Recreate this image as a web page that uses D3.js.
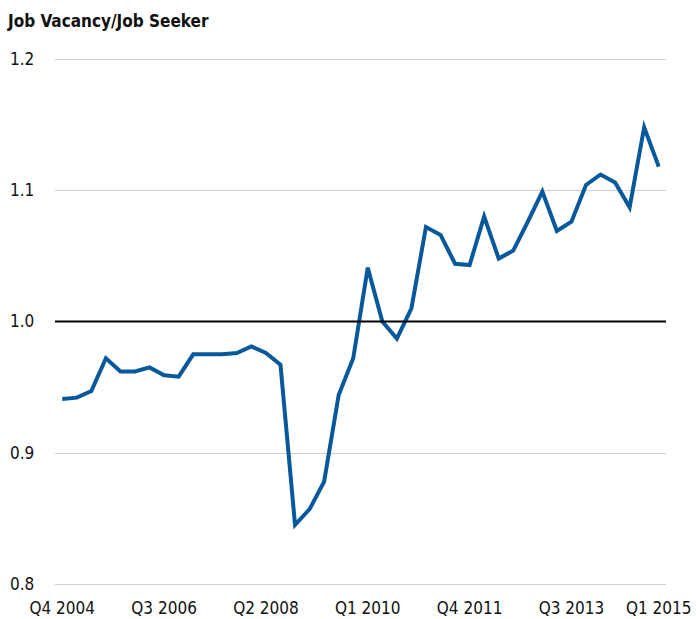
<!DOCTYPE html>
<html>
<head>
<meta charset="utf-8">
<script src="https://cdn.jsdelivr.net/npm/d3@7"></script>
<style>
  body { margin: 0; background: #fff; }
  svg text { font-family: "Liberation Sans Narrow", "Arial Narrow", "DejaVu Sans Condensed", sans-serif; fill: #111; }
</style>
</head>
<body>
<div id="chart"></div>
<script>
// quarters from Q4 2004 to Q1 2015
var quarters = [];
for (var yr = 2004; yr <= 2015; yr++) {
    for (var q = 1; q <= 4; q++) {
        if ((yr == 2004 && q < 4) || (yr == 2015 && q > 1)) continue;
        quarters.push("Q" + q + " " + yr);
    }
}

var ratio = [0.941, 0.942, 0.947, 0.972, 0.962, 0.962, 0.965, 0.959, 0.958, 0.975,
    0.975, 0.975, 0.976, 0.981, 0.976, 0.967, 0.845, 0.857, 0.878, 0.944,
    0.972, 1.041, 1.000, 0.987, 1.010, 1.072, 1.066, 1.044, 1.043, 1.080,
    1.048, 1.054, 1.076, 1.099, 1.069, 1.076, 1.104, 1.112, 1.106, 1.087,
    1.148, 1.118];

var yTicks = [0.8, 0.9, 1.0, 1.1, 1.2];
var xTickLabels = ["Q4 2004", "Q3 2006", "Q2 2008", "Q1 2010", "Q4 2011", "Q3 2013", "Q1 2015"];

var W = 696, H = 619;
var mLeft = 55, mRight = 666, mTop = 59, mBottom = 584;

var svg = d3.select("#chart").append("svg")
    .attr("width", W)
    .attr("height", H);

var x = d3.scalePoint()
    .domain(quarters)
    .range([mLeft, mRight])
    .padding(0.5);

var y = d3.scaleLinear()
    .domain([0.8, 1.2])
    .range([mBottom, mTop]);

// gridlines
svg.append("g").selectAll("line")
    .data(yTicks.filter(function(d) { return d != 1.0; }))
    .enter().append("line")
    .attr("x1", mLeft).attr("x2", mRight)
    .attr("y1", function(d) { return Math.round(y(d)) + 0.5; })
    .attr("y2", function(d) { return Math.round(y(d)) + 0.5; })
    .attr("stroke", "#cfcfcf")
    .attr("stroke-width", 1.2);

// y labels
svg.append("g").selectAll("text")
    .data(yTicks)
    .enter().append("text")
    .attr("x", 10)
    .attr("y", function(d) { return y(d); })
    .attr("dy", "0.35em")
    .style("font-size", "17px")
    .text(function(d) { return d3.format(".1f")(d); });

// x labels
svg.append("g").selectAll("text")
    .data(xTickLabels)
    .enter().append("text")
    .attr("x", function(d) { return x(d); })
    .attr("y", 614)
    .attr("text-anchor", "middle")
    .style("font-size", "17px")
    .text(function(d) { return d; });

// the series
var line = d3.line()
    .x(function(d, i) { return x(quarters[i]); })
    .y(function(d) { return y(d); });

svg.append("path")
    .datum(ratio)
    .attr("fill", "none")
    .attr("stroke", "#07599c")
    .attr("stroke-width", 4)
    .attr("stroke-linejoin", "miter")
    .attr("d", line);

// reference line at 1.0
svg.append("line")
    .attr("x1", mLeft).attr("x2", mRight)
    .attr("y1", y(1.0)).attr("y2", y(1.0))
    .attr("stroke", "#000")
    .attr("stroke-width", 2);

svg.append("text")
    .attr("x", 8)
    .attr("y", 27)
    .style("font-size", "17px")
    .style("font-weight", "bold")
    .text("Job Vacancy/Job Seeker");
</script>
</body>
</html>
